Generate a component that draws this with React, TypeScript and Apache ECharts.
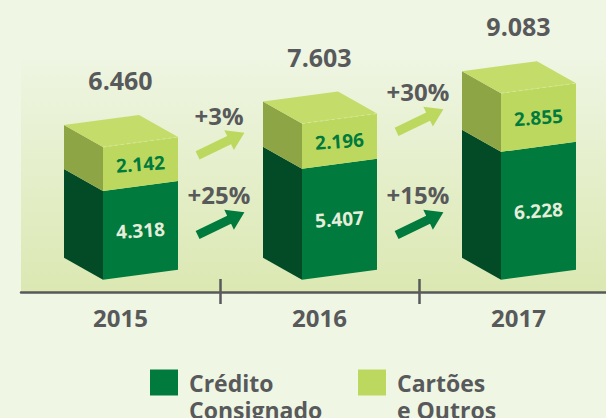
import React, { useEffect, useRef } from "react";
import * as echarts from "echarts";

const years = ["2015", "2016", "2017"];
const credito = [4318, 5407, 6228];
const cartoes = [2142, 2196, 2855];
const totals = [6460, 7603, 9083];
const creditoGrowth = ["+25%", "+15%"];
const cartoesGrowth = ["+3%", "+30%"];
const seriesNames = ["Crédito Consignado", "Cartões e Outros"];
const legendLabels = [" \nCrédito\nConsignado", " \nCartões\ne Outros"];

const FONT = "'Open Sans', 'Noto Sans', sans-serif";
const GRAY = "#58595b";
const DARK = { front: "#007a3d", side: "#034b26", text: "#e6eedb" };
const LIGHT = { front: "#bdd85e", side: "#8ea546", top: "#c4dc69", text: "#007a3d" };

const FRONT_W = 75;
const FRONT_OFF = 17.5;
const SIDE_DX = 39;
const SIDE_DY = 22;
const TILT = 10;

const fmt = (n: number) => String(n).replace(/\B(?=(\d{3})+(?!\d))/g, ".");

function boxRenderer(isTop: boolean) {
  const pal: any = isTop ? LIGHT : DARK;
  return (params: any, api: any) => {
    const i = api.value(0);
    const lo = api.value(1);
    const hi = api.value(2);
    const cx = api.coord([i, 0])[0];
    const yLo = api.coord([i, lo])[1];
    const yHi = api.coord([i, hi])[1];
    const xL = cx - FRONT_OFF;
    const xR = xL + FRONT_W;
    const children: any[] = [
      {
        type: "polygon",
        shape: { points: [[xL - SIDE_DX, yHi - SIDE_DY], [xL, yHi], [xL, yLo], [xL - SIDE_DX, yLo - SIDE_DY]] },
        style: { fill: pal.side },
      },
      {
        type: "polygon",
        shape: { points: [[xL, yHi], [xR, yHi - TILT], [xR, yLo - TILT], [xL, yLo]] },
        style: { fill: pal.front },
      },
      {
        type: "text",
        x: (xL + xR) / 2,
        y: (yHi + yLo) / 2 - TILT / 2,
        rotation: 0.07,
        style: {
          text: fmt(hi - lo),
          fill: pal.text,
          font: `bold 19px ${FONT}`,
          align: "center",
          verticalAlign: "middle",
        },
      },
    ];
    if (isTop) {
      children.push({
        type: "polygon",
        shape: {
          points: [
            [xL, yHi],
            [xR, yHi - TILT],
            [xR - SIDE_DX, yHi - TILT - SIDE_DY],
            [xL - SIDE_DX, yHi - SIDE_DY],
          ],
        },
        style: { fill: pal.top },
      });
      children.push({
        type: "line",
        shape: { x1: xL, y1: yHi, x2: xR, y2: yHi - TILT },
        style: { stroke: "#d6e79a", lineWidth: 1, lineDash: [3, 3] },
      });
      children.push({
        type: "text",
        x: cx,
        y: yHi - 67,
        style: {
          text: fmt(totals[i]),
          fill: GRAY,
          font: `bold 25px ${FONT}`,
          align: "center",
          verticalAlign: "middle",
        },
      });
    }
    return { type: "group", children };
  };
}

function arrowPoints(cx: number, cy: number, angle: number) {
  const pts = [[-26, -4.5], [9, -4.5], [9, -11], [26, 0], [9, 11], [9, 4.5], [-26, 4.5]];
  const c = Math.cos(angle);
  const s = Math.sin(angle);
  return pts.map(([x, y]) => [cx + x * c - y * s, cy + x * s + y * c]);
}

function growthRenderer(params: any, api: any) {
  const i = api.value(0);
  const band = api.size([1, 0])[0];
  const bx = api.coord([i, 0])[0] - band / 2 + 1;
  const yLight = api.coord([i, totals[i - 1]])[1] - 3;
  const yDark = api.coord([i, 0])[1] - 56;
  const angle = -0.45;
  const mk = (y: number, color: string, label: string) => [
    { type: "polygon", shape: { points: arrowPoints(bx, y, angle) }, style: { fill: color } },
    {
      type: "text",
      x: bx - 2,
      y: y - 29,
      style: { text: label, fill: GRAY, font: `bold 24px ${FONT}`, align: "center", verticalAlign: "middle" },
    },
  ];
  return {
    type: "group",
    children: [
      ...mk(yLight, LIGHT.front, cartoesGrowth[i - 1]),
      ...mk(yDark, DARK.front, creditoGrowth[i - 1]),
    ],
  };
}

export default function App() {
  const ref = useRef<HTMLDivElement>(null);
  useEffect(() => {
    if (!ref.current) return;
    const chart = echarts.init(ref.current, undefined, { renderer: "svg" });
    const legendBase = (idx: number, left: number) => ({
      data: [seriesNames[idx]],
      left,
      top: 342,
      padding: 0,
      icon: "rect",
      itemWidth: 28,
      itemHeight: 26,
      selectedMode: false,
      formatter: () => legendLabels[idx],
      textStyle: {
        fontFamily: FONT,
        fontWeight: "bold",
        fontSize: 23,
        lineHeight: 27,
        color: GRAY,
        padding: [0, 0, 0, 6],
      },
    });
    chart.setOption({
      animation: false,
      backgroundColor: "#eff6e4",
      grid: {
        left: 21,
        width: 597,
        top: 60,
        bottom: 126,
        outerBoundsMode: "none",
        containLabel: false,
        show: true,
        borderWidth: 0,
        backgroundColor: new echarts.graphic.LinearGradient(0, 0, 0, 1, [
          { offset: 0, color: "#eef5e2" },
          { offset: 1, color: "#dbe8b2" },
        ]),
      },
      legend: [legendBase(0, 150), legendBase(1, 358)],
      xAxis: [
        {
          type: "category",
          data: years,
          position: "bottom",
          axisLine: { show: true, onZero: false, lineStyle: { color: GRAY, width: 2.5 } },
          axisTick: {
            show: true,
            length: 12,
            interval: (idx: number) => idx !== 0,
            lineStyle: { color: GRAY, width: 2.5 },
          },
          axisLabel: {
            margin: 13,
            color: GRAY,
            fontFamily: FONT,
            fontWeight: "bold",
            fontSize: 24,
          },
        },
        {
          type: "category",
          data: years,
          position: "bottom",
          axisLine: { show: false, onZero: false },
          axisTick: {
            show: true,
            inside: true,
            length: 13,
            interval: (idx: number) => idx !== 0,
            lineStyle: { color: GRAY, width: 2.5 },
          },
          axisLabel: { show: false },
        },
      ],
      yAxis: { type: "value", min: -600, max: 10700, show: false },
      series: [
        {
          name: seriesNames[0],
          type: "custom",
          xAxisIndex: 0,
          itemStyle: { color: DARK.front },
          encode: { x: 0, y: [1, 2] },
          data: years.map((_, i) => [i, 0, credito[i]]),
          renderItem: boxRenderer(false),
        },
        {
          name: seriesNames[1],
          type: "custom",
          xAxisIndex: 0,
          itemStyle: { color: LIGHT.front },
          encode: { x: 0, y: [1, 2] },
          data: years.map((_, i) => [i, credito[i], credito[i] + cartoes[i]]),
          renderItem: boxRenderer(true),
        },
        {
          name: "growth",
          type: "custom",
          xAxisIndex: 0,
          encode: { x: 0, y: 1 },
          data: years.slice(1).map((_, k) => [k + 1, totals[k]]),
          renderItem: growthRenderer,
        },
      ],
    });
    return () => chart.dispose();
  }, []);
  return (
    <div
      ref={ref}
      style={{ position: "fixed", left: 0, top: 0, width: 606, height: 418 }}
    />
  );
}
